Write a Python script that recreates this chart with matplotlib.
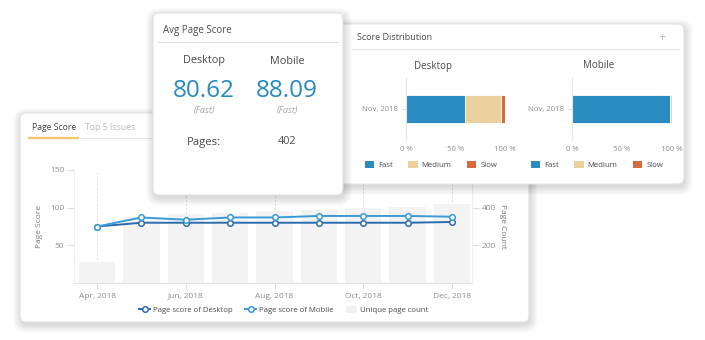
import matplotlib
matplotlib.use("Agg")
import matplotlib.pyplot as plt
from matplotlib.patches import FancyBboxPatch, Patch

plt.rcParams['font.family'] = ['Open Sans', 'DejaVu Sans']

W, H = 705, 340

# monthly page score trend
months = ['Apr, 2018', 'May, 2018', 'Jun, 2018', 'Jul, 2018', 'Aug, 2018',
          'Sep, 2018', 'Oct, 2018', 'Nov, 2018', 'Dec, 2018']
desktop_score = [75, 80, 80, 80, 80, 80, 80, 80, 81]
mobile_score = [75, 87, 84, 87, 87, 89, 89, 89, 88]
page_count = [110, 350, 365, 370, 380, 385, 400, 405, 420]

# score distribution of the latest crawl
dist_month = 'Nov, 2018'
dist_labels = ['Fast', 'Medium', 'Slow']
desktop_dist = [60, 36, 4]
mobile_dist = [98, 2, 0]

# averages
avg_desktop = 80.62
avg_mobile = 88.09
avg_rating = ['Fast', 'Fast']
pages_total = 402

BLUE = '#2689c4'
DIST_COLORS = ['#2a8bc0', '#ecd19f', '#d66a3c']
TEXT = '#4a4a4a'
GREY = '#8e8e8e'


def rect(x0, y0, x1, y1):
    # pixel box (top-left origin) -> figure fraction
    return [x0 / W, 1 - y1 / H, (x1 - x0) / W, (y1 - y0) / H]


def layer(z):
    ax = fig.add_axes([0, 0, 1, 1], zorder=z)
    ax.set_xlim(0, W)
    ax.set_ylim(H, 0)
    ax.axis('off')
    ax.patch.set_visible(False)
    return ax


def card(ax, x0, y0, x1, y1):
    # soft drop shadow, then the white panel
    for i in range(9):
        ax.add_patch(FancyBboxPatch((x0 - i + 1, y0 - i + 3), x1 - x0 + 2 * i, y1 - y0 + 2 * i,
                                    boxstyle='round,pad=0,rounding_size=%g' % (6 + i),
                                    fc='black', ec='none', alpha=0.016))
    ax.add_patch(FancyBboxPatch((x0, y0), x1 - x0, y1 - y0,
                                boxstyle='round,pad=0,rounding_size=6',
                                fc='white', ec='#e2e2e2', lw=0.8))


fig = plt.figure(figsize=(7.05, 3.4), dpi=100)
fig.patch.set_facecolor('white')

# ---- page score card (back) ----
back = layer(1)
card(back, 20, 113, 529, 322)
back.text(32, 127, 'Page Score', fontsize=6.2, color='#3f3f3f', va='center', weight='medium')
back.text(85, 127, 'Top 5 Issues', fontsize=6.2, color='#b8b8b8', va='center', weight='medium')
back.plot([28, 521], [138, 138], color='#e6e6e6', lw=0.8)
back.plot([28, 79], [138, 138], color='#f6c46d', lw=1.6, solid_capstyle='butt')

x = list(range(len(months)))
ax = fig.add_axes(rect(74, 170, 472, 283), zorder=2.5)
ax2 = ax.twinx()
ax2.set_zorder(2)
ax.patch.set_visible(False)

for i in range(0, len(months), 2):
    ax2.axvline(i, color='#e0e0e0', lw=0.7, ls=(0, (2, 2)), zorder=0)
ax2.bar(x, page_count, width=0.82, color='#f3f3f3', zorder=1)
ld, = ax.plot(x, desktop_score, color='#2b6cae', lw=1.4, marker='o', ms=4,
              mfc='white', mec='#2b6cae', mew=1.1)
lm, = ax.plot(x, mobile_score, color='#3a9ad6', lw=1.4, marker='o', ms=4,
              mfc='white', mec='#3a9ad6', mew=1.1)

ax.set_xlim(-0.52, 8.45)
ax.set_ylim(0, 150)
ax2.set_ylim(0, 600)
ax.set_yticks([50, 100, 150])
ax2.set_yticks([200, 400])
ax.set_xticks(x[::2])
ax.set_xticklabels(months[::2])
for a in (ax, ax2):
    for s in a.spines.values():
        s.set_visible(False)
    a.tick_params(labelsize=6, labelcolor=GREY, color='#dddddd', length=5, width=0.8, pad=2)
ax.spines['left'].set_visible(True)
ax.spines['left'].set_color('#eeeeee')
ax.spines['bottom'].set_visible(True)
ax.spines['bottom'].set_color('#e3e3e3')
ax2.spines['right'].set_visible(True)
ax2.spines['right'].set_color('#eeeeee')
ax.tick_params(axis='x', length=4, pad=3)
ax.set_ylabel('Page Score', fontsize=6, color='#7a7a7a')
ax.yaxis.set_label_coords(-0.078, 0.5)
ax2.set_ylabel('Page Count', fontsize=6, color='#7a7a7a', rotation=270)
ax2.yaxis.set_label_coords(1.085, 0.5)
ax.legend(handles=[ld, lm, Patch(fc='#f0f0f0', ec='none')],
          labels=['Page score of Desktop', 'Page score of Mobile', 'Unique page count'],
          loc='center', bbox_to_anchor=(284 / W, 1 - 310 / H), bbox_transform=fig.transFigure,
          ncol=3, frameon=False, fontsize=5.6, labelcolor=TEXT, handlelength=1.4,
          handleheight=0.9, handletextpad=0.4, columnspacing=1.6)

# ---- score distribution card (middle) ----
mid = layer(3)
card(mid, 338, 24, 684, 184)
mid.text(357, 38, 'Score Distribution', fontsize=6.5, color=TEXT, va='center')
mid.text(662, 38, '+', fontsize=9, color='#bbbbbb', va='center', ha='center')
mid.plot([352, 679], [49, 49], color='#e3e3e3', lw=0.8)
mid.text(433, 66, 'Desktop', fontsize=7, color=TEXT, va='center', ha='center')
mid.text(599, 66, 'Mobile', fontsize=7, color=TEXT, va='center', ha='center')


def dist_chart(box, values, legend_x):
    dax = fig.add_axes(rect(*box), zorder=4)
    left = 0
    handles = []
    for v, c, name in zip(values, DIST_COLORS, dist_labels):
        dax.barh(0, v, left=left, height=0.45, color=c, ec='white', lw=0.6)
        handles.append(Patch(fc=c, ec='none', label=name))
        left += v
    dax.set_xlim(0, 100)
    dax.set_ylim(-0.5, 0.5)
    dax.axvline(100, color='#eeeeee', lw=0.7, zorder=0)
    for s in dax.spines.values():
        s.set_visible(False)
    dax.spines['left'].set_visible(True)
    dax.spines['left'].set_color('#e6e6e6')
    dax.set_xticks([0, 50, 100])
    dax.set_xticklabels(['0 %', '50 %', '100 %'])
    dax.set_yticks([0])
    dax.set_yticklabels([dist_month])
    dax.tick_params(axis='x', length=0, labelsize=5.6, labelcolor=GREY, pad=4)
    dax.tick_params(axis='y', length=3, color='#dddddd', labelsize=5.6, labelcolor=GREY, pad=3)
    dax.legend(handles=handles, loc='center', bbox_to_anchor=(legend_x / W, 1 - 165 / H),
               bbox_transform=fig.transFigure, ncol=3, frameon=False, fontsize=5.6,
               labelcolor=TEXT, handlelength=1.2, handleheight=0.9, handletextpad=0.5,
               columnspacing=2.0)


dist_chart((406, 78, 505, 140), desktop_dist, 431)
dist_chart((572, 78, 672, 140), mobile_dist, 597)

# ---- average score card (front) ----
front = layer(5)
card(front, 153, 13, 343, 195)
front.text(163, 30, 'Avg Page Score', fontsize=7, color=TEXT, va='center')
front.plot([158, 338], [42, 42], color='#dddddd', lw=0.8)
for cx, name, val, rating in [(204, 'Desktop', avg_desktop, avg_rating[0]),
                              (287, 'Mobile', avg_mobile, avg_rating[1])]:
    front.text(cx, 61, name, fontsize=7.8, color=TEXT, ha='center', va='center')
    front.text(cx, 91, '%.2f' % val, fontsize=17.5, color=BLUE, ha='center', va='center',
               weight='medium')
    front.text(cx, 111, '(%s)' % rating, fontsize=6.5, color='#a5a5a5', style='italic',
               ha='center', va='center')
front.text(204, 142, 'Pages:', fontsize=8.2, color=TEXT, ha='center', va='center')
front.text(287, 142, str(pages_total), fontsize=7.8, color=TEXT, ha='center', va='center')

fig.savefig('out.png', dpi=100, facecolor='white')
